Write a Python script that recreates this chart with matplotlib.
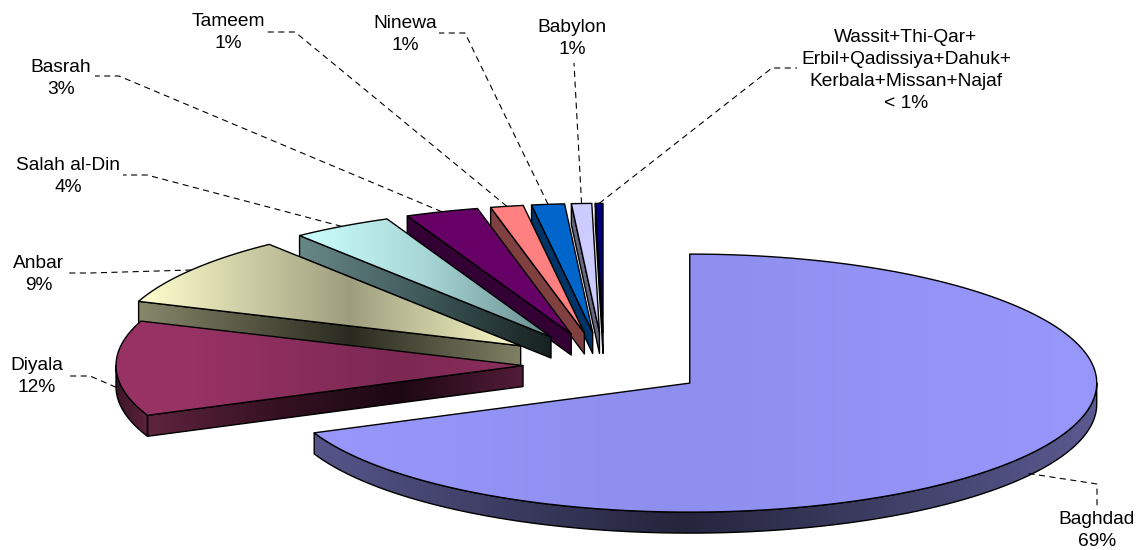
import numpy as np
import matplotlib
matplotlib.use("Agg")
import matplotlib.pyplot as plt
from matplotlib.patches import Polygon

# ---- data -------------------------------------------------------------
regions = ["Baghdad", "Diyala", "Anbar", "Salah al-Din", "Basrah", "Tameem",
           "Ninewa", "Babylon",
           "Wassit+Thi-Qar+\nErbil+Qadissiya+Dahuk+\nKerbala+Missan+Najaf"]
shares = [68.7, 11.9, 8.8, 4.0, 2.9, 1.3, 1.3, 0.8, 0.3]   # percent

# ---- styling ----------------------------------------------------------
# (position along face, rgb) colour stops for the top face and the walls
top_shading = [
    [(0, (152, 152, 252)), (0.45, (142, 142, 238)), (1, (152, 152, 252))],
    [(0, (153, 51, 102)), (0.2, (150, 50, 100)), (0.7, (124, 40, 83)), (1, (140, 46, 93))],
    [(0, (255, 255, 206)), (0.55, (158, 158, 126)), (1, (250, 250, 200))],
    [(0, (204, 255, 255)), (0.5, (168, 214, 214)), (1, (104, 140, 140))],
    [(0, (102, 0, 102)), (1, (102, 0, 102))],
    [(0, (255, 128, 128)), (1, (255, 128, 128))],
    [(0, (0, 102, 204)), (1, (0, 102, 204))],
    [(0, (204, 204, 255)), (1, (204, 204, 255))],
    [(0, (0, 0, 128)), (1, (0, 0, 128))],
]
wall_shading = [
    [(0, (85, 85, 138)), (0.47, (36, 36, 60)), (1, (90, 90, 145))],
    [(0, (60, 22, 40)), (0.08, (95, 35, 62)), (0.4, (52, 17, 33)), (0.7, (28, 8, 18)), (1, (82, 28, 56))],
    [(0, (135, 135, 106)), (0.55, (42, 42, 32)), (1, (128, 128, 100))],
    [(0, (104, 136, 136)), (0.5, (62, 88, 88)), (1, (22, 32, 32))],
    [(0, (51, 0, 51)), (1, (51, 0, 51))],
    [(0, (128, 64, 64)), (1, (128, 64, 64))],
    [(0, (0, 51, 102)), (1, (0, 51, 102))],
    [(0, (102, 102, 128)), (1, (102, 102, 128))],
    [(0, (0, 0, 64)), (1, (0, 0, 64))],
]

# pie geometry in pixel units
CX, CY = 604, 365
RX, RY = 407, 129
DEPTH = 21
explode = [103, 81, 103, 103, 103, 103, 103, 103, 103]

# label layout: first text line centre, leader waypoints (from slice outward)
label_pos = [(1097, 519), (37, 366), (39, 263), (68, 165), (61, 67),
             (228, 22), (405, 23), (572, 27.5), (906, 37)]
leader_way = [
    [(1097, 484), (1097, 506)],
    [(90, 376), (67, 376)],
    [(90, 273), (68, 273)],
    [(147, 175), (123, 175)],
    [(119, 76), (95, 76)],
    [(295, 32), (266, 32)],
    [(465, 33), (439, 33)],
    [(574, 63)],
    [(772, 68), (797, 68)],
]
LINE_STEP = 22
FONT = dict(family=["Liberation Sans", "DejaVu Sans"], size=13.8, color="black")


def pct_text(v):
    return "< 1%" if v < 0.5 else f"{round(v)}%"


def ellipse_pts(cx, cy, t1, t2, dz=0.0):
    n = max(int(abs(np.degrees(t2 - t1))) * 2, 4)
    th = np.linspace(t1, t2, n)
    return np.column_stack([cx + RX * np.cos(th), cy - RY * np.sin(th) + dz])


def gradient_fill(ax, xy, stops, x0, x1, z):
    clip = Polygon(xy, closed=True, facecolor="none", edgecolor="none")
    ax.add_patch(clip)
    t = np.linspace(0, 1, 256)
    pos = [s[0] for s in stops]
    cols = np.array([s[1] for s in stops], dtype=float) / 255.0
    rgb = np.stack([np.interp(t, pos, cols[:, c]) for c in range(3)], axis=-1)[None, :, :]
    ys = xy[:, 1]
    im = ax.imshow(rgb, extent=(x0, x1, ys.max() + 1, ys.min() - 1),
                   aspect="auto", interpolation="bilinear", zorder=z)
    im.set_clip_path(clip)
    ax.add_patch(Polygon(xy, closed=True, facecolor="none", edgecolor="black",
                         lw=1.0, joinstyle="round", zorder=z + 0.01))


fig = plt.figure(figsize=(11.38, 5.5), dpi=100)
ax = fig.add_axes([0, 0, 1, 1])

total = float(sum(shares))
spans = [2 * np.pi * v / total for v in shares]
a_hi = []
start = np.pi / 2
for s in spans:
    a_hi.append(start)
    start -= s
a_lo = [h - s for h, s in zip(a_hi, spans)]
mids = [(h + l) / 2 for h, l in zip(a_hi, a_lo)]
k = RY / RX
centres = [(CX + d * np.cos(m), CY - d * k * np.sin(m)) for d, m in zip(explode, mids)]

# paint from the back of the pie towards the viewer
order = sorted(range(len(shares)), key=lambda i: -np.sin(mids[i]))
for rank, i in enumerate(order):
    cx, cy = centres[i]
    lo, hi = a_lo[i], a_hi[i]
    z = 2 + rank
    walls = []
    # radial walls that face the viewer
    for ang, normal in ((lo, lo - np.pi / 2), (hi, hi + np.pi / 2)):
        if np.sin(normal) < -1e-6:
            ox, oy = cx + RX * np.cos(ang), cy - RY * np.sin(ang)
            walls.append(np.array([(cx, cy), (ox, oy), (ox, oy + DEPTH), (cx, cy + DEPTH)]))
    # curved outer wall on the front half
    for kk in (-1, 0, 1):
        f0, f1 = -np.pi + 2 * np.pi * kk, 2 * np.pi * kk
        s0, s1 = max(lo, f0), min(hi, f1)
        if s1 - s0 > 1e-4:
            topa = ellipse_pts(cx, cy, s0, s1)
            bot = ellipse_pts(cx, cy, s1, s0, DEPTH)
            walls.append(np.vstack([topa, bot]))
    if walls:
        allx = np.concatenate([w[:, 0] for w in walls])
        for w in walls:
            gradient_fill(ax, w, wall_shading[i], allx.min(), allx.max(), z)
    top = np.vstack([[(cx, cy)], ellipse_pts(cx, cy, hi, lo)])
    gradient_fill(ax, top, top_shading[i], top[:, 0].min(), top[:, 0].max(), z + 0.5)

# labels and dashed leader lines
for i, name in enumerate(regions):
    cx, cy = centres[i]
    m = mids[i]
    ax_pt = (cx + RX * np.cos(m), cy - RY * np.sin(m) + (0.9 * DEPTH if np.sin(m) < 0 else 0))
    path = np.array([ax_pt] + leader_way[i])
    ax.plot(path[:, 0], path[:, 1], color="black", lw=0.8, dashes=(5.5, 4), zorder=30)
    lines = name.split("\n") + [pct_text(shares[i])]
    lx, ly = label_pos[i]
    for j, line in enumerate(lines):
        ax.text(lx, ly + j * LINE_STEP, line, ha="center", va="center", zorder=31, **FONT)

ax.set_xlim(0, 1138)
ax.set_ylim(550, 0)
ax.set_aspect("auto")
ax.axis("off")
fig.savefig("out.png", dpi=100, facecolor="white")
